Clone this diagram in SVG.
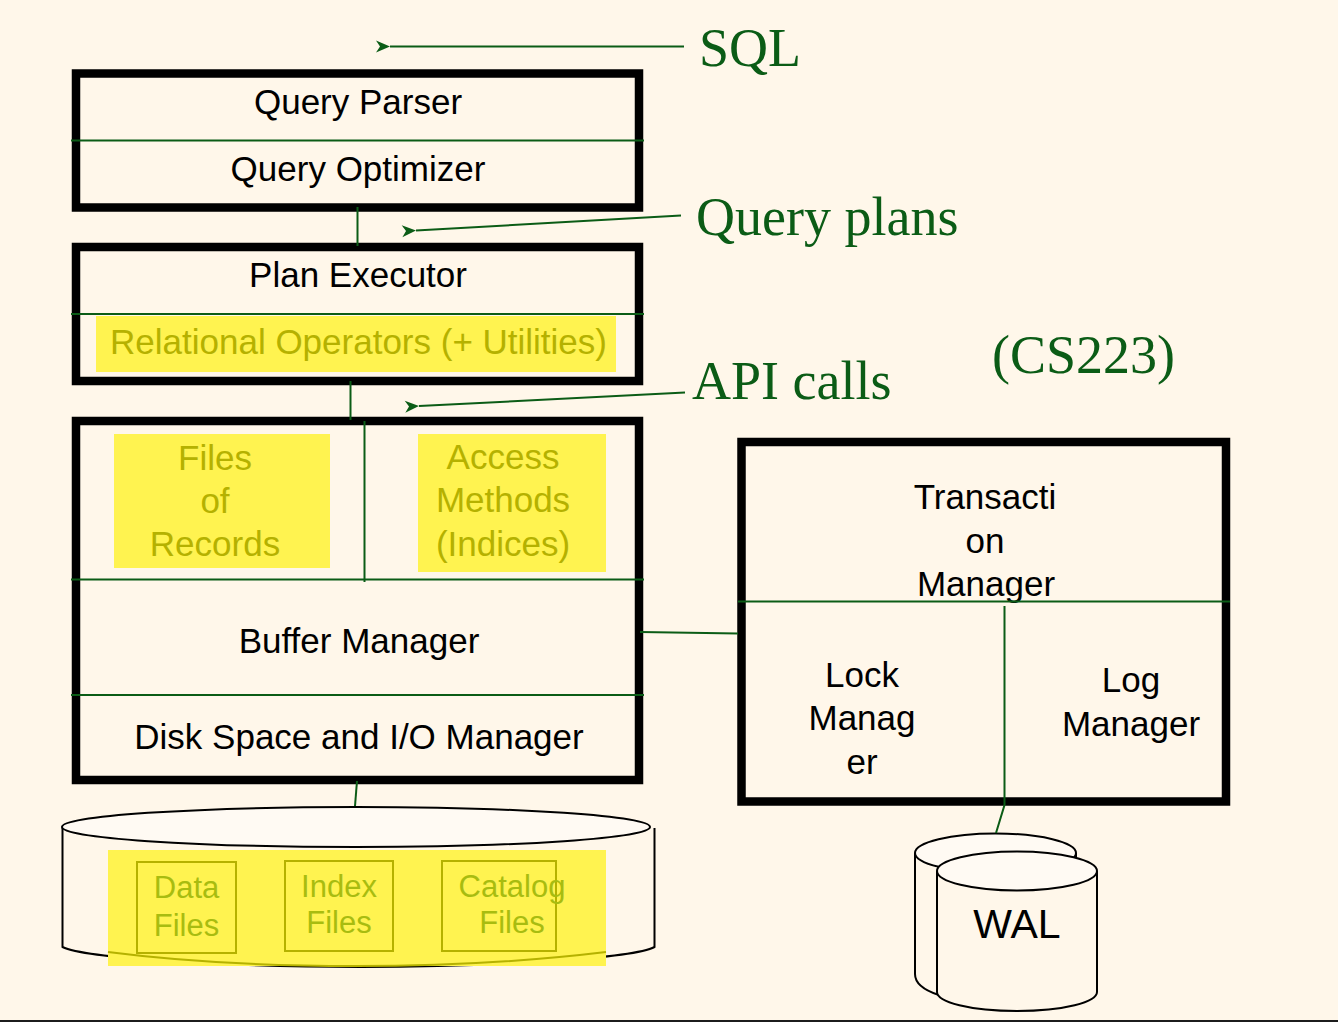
<svg xmlns="http://www.w3.org/2000/svg" width="1338" height="1022" viewBox="0 0 1338 1022">
<style>
.box{fill:none;stroke:#000;stroke-width:8.5}
.ln{fill:none;stroke:#0b5c16;stroke-width:2}
.cyl{fill:#fff7ea;stroke:#000;stroke-width:2}
.top{fill:#fffaf3;stroke:#000;stroke-width:2}
.hl{fill:#fff350}
.t{font-family:"Liberation Sans",Arial,sans-serif;font-size:35px;fill:#000;text-anchor:middle}
.y{font-family:"Liberation Sans",Arial,sans-serif;font-size:35px;fill:#b5b100;text-anchor:middle}
.f{font-family:"Liberation Sans",Arial,sans-serif;font-size:31px;fill:#a8bc10;text-anchor:middle}
.g{font-family:"Liberation Serif","Times New Roman",serif;font-size:54px;fill:#0b5c16}
.fb{fill:none;stroke:#b5b100;stroke-width:2}
</style>
<defs>
<marker id="arr" markerUnits="userSpaceOnUse" markerWidth="16" markerHeight="14" refX="1" refY="6" orient="auto-start-reverse" viewBox="0 0 16 12"><path d="M15 0 L1 6 L15 12 L11 6 Z" fill="#0b5c16"/></marker>
</defs>
<rect width="1338" height="1022" fill="#fff7ea"/>
<rect id="bottom-edge" x="0" y="1020" width="1338" height="2" fill="#1c1c1c"/>

<g id="storage-disk">
<path class="cyl" d="M58 828 V947 C80 958 220 967 356 967 C492 967 630 958 650 947 V828" transform="translate(4.500 0)"/>
<ellipse class="top" cx="356" cy="827" rx="294" ry="20"/>
<rect class="hl" x="108" y="850" width="498" height="116"/>
<path d="M108 952 C170 960 260 966 356 966 C450 966 540 960 606 952" fill="none" stroke="#b5b100" stroke-width="2"/>
</g>
<g id="data-files"><rect class="fb" x="137" y="862" width="99" height="91"/><text class="f" x="186.500" y="898">Data</text><text class="f" x="186.500" y="936">Files</text></g>
<g id="index-files"><rect class="fb" x="285" y="861" width="108" height="90"/><text class="f" x="339" y="897">Index</text><text class="f" x="339" y="933">Files</text></g>
<g id="catalog-files"><rect class="fb" x="442" y="861" width="114" height="90"/><text class="f" x="512" y="897">Catalog</text><text class="f" x="512" y="933">Files</text></g>

<g id="wal-back">
<path class="cyl" d="M915 853 V974 C915 992 950 1002 995 1002 C1040 1002 1076 992 1076 974 V853"/>
<ellipse class="top" cx="995.500" cy="853" rx="80.500" ry="19.500"/>
</g>
<g id="wal">
<path class="cyl" d="M937 871 V992 C937 1002 970 1011 1017 1011 C1064 1011 1097 1002 1097 992 V871"/>
<ellipse class="top" cx="1017" cy="871" rx="80" ry="19.500"/>
<text x="1017" y="938" font-family="'Liberation Sans',Arial,sans-serif" font-size="41" text-anchor="middle">WAL</text>
</g>

<g id="query-box">
<rect class="box" x="76" y="73.500" width="563" height="134"/>
<text class="t" x="358" y="114">Query Parser</text>
<text class="t" x="358" y="181">Query Optimizer</text>
</g>
<g id="executor-box">
<rect class="box" x="76" y="247" width="563" height="134"/>
<text class="t" x="358" y="287">Plan Executor</text>
<rect class="hl" x="96" y="316" width="520" height="56"/>
<text class="y" x="358.500" y="354">Relational Operators (+ Utilities)</text>
</g>
<g id="storage-box">
<rect class="box" x="76" y="421" width="563" height="359"/>
<rect class="hl" x="114" y="434" width="216" height="134"/>
<rect class="hl" x="418" y="434" width="188" height="138"/>
<text class="y" x="215" y="470">Files</text><text class="y" x="215" y="513">of</text><text class="y" x="215" y="556">Records</text>
<text class="y" x="503" y="469">Access</text><text class="y" x="503" y="512">Methods</text><text class="y" x="503" y="556">(Indices)</text>
<text class="t" x="359" y="653">Buffer Manager</text>
<text class="t" x="359" y="749">Disk Space and I/O Manager</text>
</g>
<g id="transaction-box">
<rect class="box" x="741.500" y="442" width="484.500" height="359.500"/>
<text class="t" x="985" y="509">Transacti</text><text class="t" x="985" y="553">on</text><text class="t" x="986" y="596">Manager</text>
<text class="t" x="862" y="687">Lock</text><text class="t" x="862" y="730">Manag</text><text class="t" x="862" y="774">er</text>
<text class="t" x="1131" y="692">Log</text><text class="t" x="1131" y="736">Manager</text>
</g>

<g id="connectors">
<path class="ln" d="M71 140.500 H644"/>
<path class="ln" d="M71 314 H644"/>
<path class="ln" d="M71 579.500 H644"/>
<path class="ln" d="M71 695 H644"/>
<path class="ln" d="M738 601.500 H1230"/>
<path class="ln" d="M357.500 207 V246"/>
<path class="ln" d="M350.500 381 V420"/>
<path class="ln" d="M364.500 421 V582"/>
<path class="ln" d="M640 632 L738 633.500"/>
<path class="ln" d="M1004.500 606 V805 L996 833"/>
<path class="ln" d="M357 781 L355 806"/>
<path class="ln" marker-end="url(#arr)" d="M684 46.500 H390"/>
<path class="ln" marker-end="url(#arr)" d="M681 215.500 L416 230.500"/>
<path class="ln" marker-end="url(#arr)" d="M685 392.500 L419 406"/>
</g>

<text class="g" x="699" y="66">SQL</text>
<text class="g" x="696" y="235">Query plans</text>
<text class="g" x="692" y="399">API calls</text>
<text class="g" x="992" y="373">(CS223)</text>
</svg>
